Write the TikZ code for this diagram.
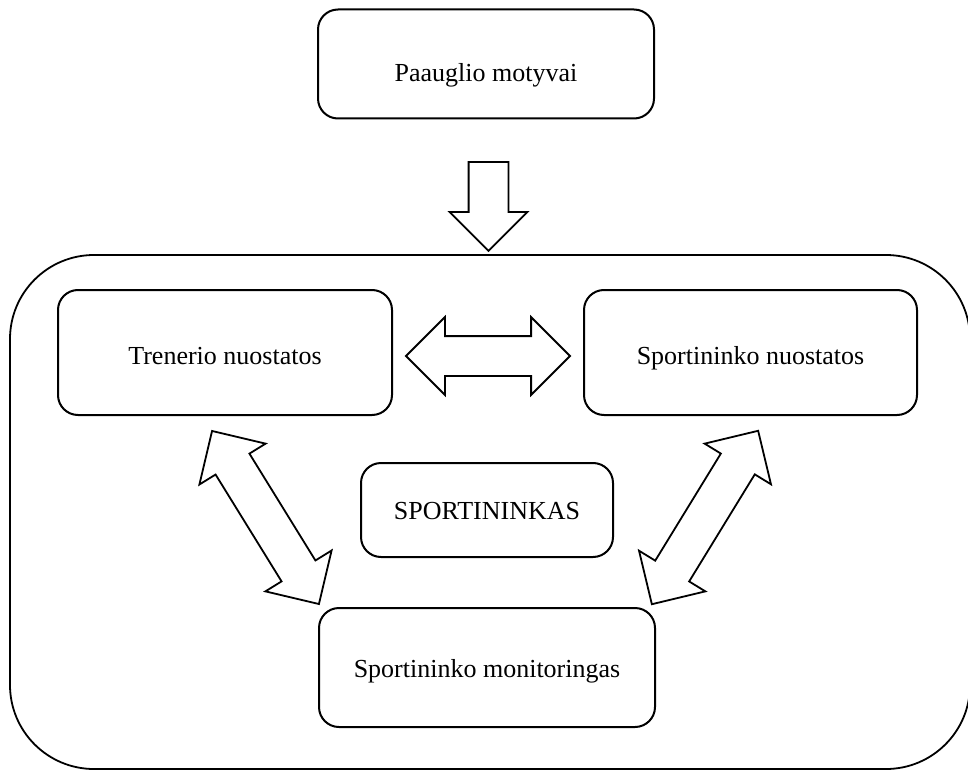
\documentclass[tikz,border=0pt]{standalone}
\usepackage{fontspec}
\setmainfont{Liberation Serif}
\usetikzlibrary{shapes.arrows,positioning,calc}
\newcommand{\boxwidth}{167pt}
\newcommand{\arrowgap}{9.5pt}
\tikzset{
    stage/.style = { draw, line width = 1pt, rectangle, align=center,
        rounded corners = 10pt,
        minimum width = \boxwidth,
        minimum height = 62.5pt,
        text height = 15pt, text depth = 3pt,
        font = \fontsize{13}{15.6}\selectfont
    },
    outerbox/.style = { draw, line width = 0.9pt, rectangle,
        rounded corners = 42pt
    },
    fatarrow/.style = { draw, line width = 0.9pt, fill = white,
        single arrow, single arrow tip angle = 90,
        single arrow head extend = \arrowgap,
        inner sep = 0pt, inner ysep = \arrowgap
    },
    fatdarrow/.style = { draw, line width = 0.9pt, fill = white,
        double arrow, double arrow tip angle = 90,
        double arrow head extend = \arrowgap,
        inner sep = 0pt, inner ysep = \arrowgap
    }
}
\begin{document}
\begin{tikzpicture}[x=0.5pt, y=-0.5pt]
        \useasboundingbox (0,0) rectangle (968,770);

        % big frame round the athlete
        \node[outerbox, minimum width=480pt, minimum height=257pt] (team) at (490,512) {};

        % boxes...
        \node[stage, minimum width=168pt, minimum height=54.5pt, text height=21pt] (motyvai) at (486,64) {Paauglio motyvai};
        \node[stage] (trenerio) at (225,352.5) {Trenerio nuostatos};
        \node[stage, minimum width=166.5pt] (nuostatos) [right=95pt of trenerio] {Sportininko nuostatos};
        \node[stage, minimum width=126pt, minimum height=47pt, text height=12pt] (sportininkas) at (487,510) {SPORTININKAS};
        \node[stage, minimum width=168pt, minimum height=59.5pt, text height=13pt] (monit) [below=24.5pt of sportininkas] {Sportininko monitoringas};

        % arrows...
        \node[fatarrow, minimum height=44.5pt, rotate=-90] (a0) at (488.5,196.5) {};
        \node[fatdarrow, minimum height=82pt] (a1) at ($(trenerio.east)!0.5!(nuostatos.west)+(0,3.5)$) {};
        \node[fatdarrow, minimum height=101.7pt, rotate=-58.3] (a2) at (265.5,517.5) {};
        \node[fatdarrow, minimum height=101.7pt, rotate=58.5] (a3) at (705,517.5) {};

\end{tikzpicture}
\end{document}
